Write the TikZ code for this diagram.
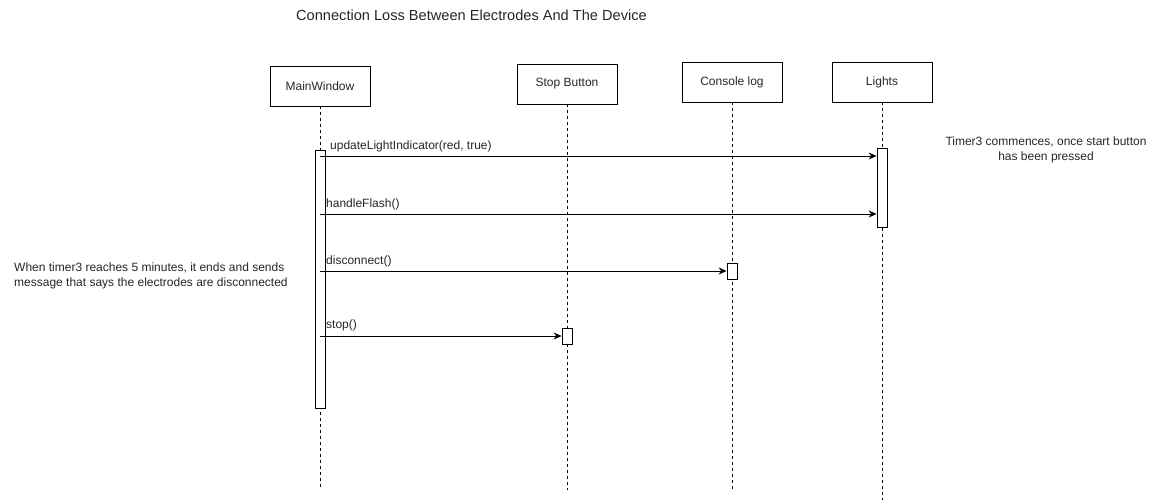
\documentclass[tikz,border=0pt]{standalone}
\usepackage{fontspec}
\setmainfont{Liberation Sans}
\usetikzlibrary{arrows.meta}
\begin{document}
\begin{tikzpicture}[x=1pt,y=-1pt,
  txt/.style={font=\fontsize{12}{15}\selectfont, text=black!85, inner sep=0pt},
  obj/.style={draw, line width=0.8pt, minimum width=100pt, minimum height=40pt, inner sep=0pt, txt},
  lifeline/.style={dash pattern=on 3pt off 3pt, line width=0.8pt},
  act/.style={draw, fill=white, line width=0.8pt, minimum width=10pt, inner sep=0pt},
  msg/.style={line width=0.8pt, -{Stealth[length=8pt,width=7pt]}},
  lbl/.style={txt, anchor=base west}
]
\useasboundingbox (0,0) rectangle (1162,501);
% title
\node[txt, font=\fontsize{14.6}{17}\selectfont] (title) at (471.5,15) {Connection Loss Between Electrodes And The Device};
% objects
\node[obj] (mw) at (320,86) {MainWindow};
\node[obj] (sb) at (567,84) {Stop Button};
\node[obj] (cl) at (732,82) {Console log};
\node[obj] (li) at (882,82) {Lights};
% lifeline ends
\coordinate (mwend) at (320,488);
\coordinate (sbend) at (567,490);
\coordinate (clend) at (732,490);
\coordinate (liend) at (882,500);
\draw[lifeline] (mw.south) -- (mwend);
\draw[lifeline] (sb.south) -- (sbend);
\draw[lifeline] (cl.south) -- (clend);
\draw[lifeline] (li.south) -- (liend);
% activations
\node[act, minimum height=258pt] (mwa) at (320,279) {};
\node[act, minimum height=79pt] (lia) at (882,187.5) {};
\node[act, minimum height=16pt] (cla) at (732,271) {};
\node[act, minimum height=16pt] (sba) at (567,336) {};
% messages
\coordinate (y1) at (0,156);
\coordinate (y2) at (0,214);
\coordinate (y3) at (0,271);
\coordinate (y4) at (0,336);
\draw[msg] (mwa.center |- y1) -- (lia.west |- y1);
\draw[msg] (mwa.center |- y2) -- (lia.west |- y2);
\draw[msg] (mwa.center |- y3) -- (cla.west |- y3);
\draw[msg] (mwa.center |- y4) -- (sba.west |- y4);
\node[lbl] (l1) at (330,149) {updateLightIndicator(red, true)};
\node[lbl] (l2) at (326,207) {handleFlash()};
\node[lbl] (l3) at (326,264) {disconnect()};
\node[lbl] (l4) at (326,328) {stop()};
% notes
\node[txt, align=center] (n1) at (1046,150) {Timer3 commences, once start button\\has been pressed};
\node[txt, align=left, anchor=west] (n2) at (14,275.5) {When timer3 reaches 5 minutes, it ends and sends\\message that says the electrodes are disconnected};
\end{tikzpicture}
\end{document}
